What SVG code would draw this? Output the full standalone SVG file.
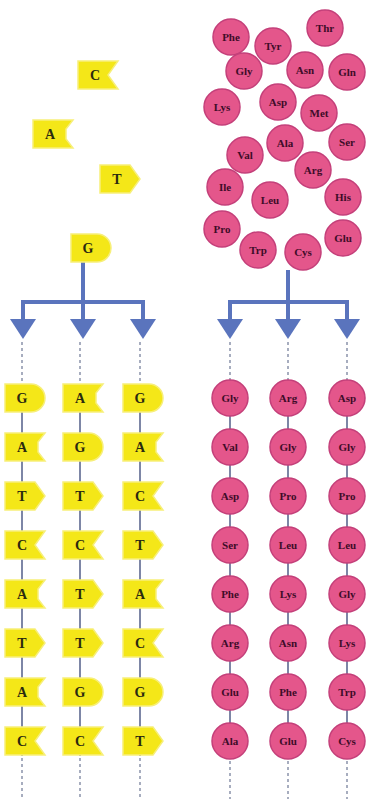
<svg xmlns="http://www.w3.org/2000/svg" width="378" height="799" viewBox="0 0 378 799">
<style>
.tag{fill:#f4e718;stroke:#f7ef7a;stroke-width:1.5}
.dt{font-family:"Liberation Serif",serif;font-weight:bold;font-size:14px;fill:#2a2a10;text-anchor:middle;dominant-baseline:central}
.aa{fill:#e4568b;stroke:#c4407a;stroke-width:1.5}
.at{font-family:"Liberation Serif",serif;font-weight:bold;font-size:11px;fill:#3e0c28;text-anchor:middle;dominant-baseline:central}
.arr{fill:none;stroke:#5a74bd;stroke-width:4}
.ah{fill:#5a74bd}
.sl{stroke:#7d86a6;stroke-width:2}
.dl{stroke:#8a92ab;stroke-width:1.5;stroke-dasharray:3 3}
</style>
<defs>
<path id="tA" d="M-17,-14 H23 L16,-5 V5 L23,14 H-17 Z"/>
<path id="tC" d="M-17,-14 H23 L13,0 L23,14 H-17 Z"/>
<path id="tT" d="M-17,-14 H13 L23,0 L13,14 H-17 Z"/>
<path id="tG" d="M-17,-14 H9 A14,14 0 0 1 9,14 H-17 Z"/>
</defs>
<rect width="378" height="799" fill="#ffffff"/>

<g id="connectors">
<path class="arr" d="M83,262 V302 M23,302 H143 M23,300 V322 M83,302 V322 M143,300 V322"/>
<polygon class="ah" points="10,319 36,319 23,339"/>
<polygon class="ah" points="70,319 96,319 83,339"/>
<polygon class="ah" points="130,319 156,319 143,339"/>
<path class="arr" d="M288,270 V302 M230,302 H347 M230,300 V322 M288,302 V322 M347,300 V322"/>
<polygon class="ah" points="217,319 243,319 230,339"/>
<polygon class="ah" points="275,319 301,319 288,339"/>
<polygon class="ah" points="334,319 360,319 347,339"/>
<path class="dl" d="M22,342 V384 M80,342 V384 M140,342 V384 M230,342 V380 M288,342 V380 M347,342 V380"/>
<path class="sl" d="M22,384 V756 M80,384 V756 M140,384 V756 M230,384 V756 M288,384 V756 M347,384 V756"/>
<path class="dl" d="M22,758 V799 M80,758 V799 M140,758 V799 M230,761 V799 M288,761 V799 M347,761 V799"/>
</g>

<g id="free-dna">
<g id="free-C"><use href="#tC" class="tag" x="95" y="75"/><text class="dt" x="95" y="75">C</text></g>
<g id="free-A"><use href="#tA" class="tag" x="50" y="134"/><text class="dt" x="50" y="134">A</text></g>
<g id="free-T"><use href="#tT" class="tag" x="117" y="179"/><text class="dt" x="117" y="179">T</text></g>
<g id="free-G"><use href="#tG" class="tag" x="88" y="248"/><text class="dt" x="88" y="248">G</text></g>
</g>

<g id="free-aa">
<g id="f-Phe"><circle class="aa" cx="231" cy="37" r="18"/><text class="at" x="231" y="37">Phe</text></g>
<g id="f-Tyr"><circle class="aa" cx="273" cy="46" r="18"/><text class="at" x="273" y="46">Tyr</text></g>
<g id="f-Thr"><circle class="aa" cx="325" cy="28" r="18"/><text class="at" x="325" y="28">Thr</text></g>
<g id="f-Gly"><circle class="aa" cx="244" cy="71" r="18"/><text class="at" x="244" y="71">Gly</text></g>
<g id="f-Asn"><circle class="aa" cx="305" cy="70" r="18"/><text class="at" x="305" y="70">Asn</text></g>
<g id="f-Gln"><circle class="aa" cx="347" cy="72" r="18"/><text class="at" x="347" y="72">Gln</text></g>
<g id="f-Lys"><circle class="aa" cx="222" cy="107" r="18"/><text class="at" x="222" y="107">Lys</text></g>
<g id="f-Asp"><circle class="aa" cx="278" cy="102" r="18"/><text class="at" x="278" y="102">Asp</text></g>
<g id="f-Met"><circle class="aa" cx="319" cy="113" r="18"/><text class="at" x="319" y="113">Met</text></g>
<g id="f-Ala"><circle class="aa" cx="285" cy="143" r="18"/><text class="at" x="285" y="143">Ala</text></g>
<g id="f-Ser"><circle class="aa" cx="347" cy="142" r="18"/><text class="at" x="347" y="142">Ser</text></g>
<g id="f-Val"><circle class="aa" cx="245" cy="155" r="18"/><text class="at" x="245" y="155">Val</text></g>
<g id="f-Arg"><circle class="aa" cx="313" cy="170" r="18"/><text class="at" x="313" y="170">Arg</text></g>
<g id="f-Ile"><circle class="aa" cx="225" cy="187" r="18"/><text class="at" x="225" y="187">Ile</text></g>
<g id="f-Leu"><circle class="aa" cx="270" cy="200" r="18"/><text class="at" x="270" y="200">Leu</text></g>
<g id="f-His"><circle class="aa" cx="343" cy="197" r="18"/><text class="at" x="343" y="197">His</text></g>
<g id="f-Pro"><circle class="aa" cx="222" cy="229" r="18"/><text class="at" x="222" y="229">Pro</text></g>
<g id="f-Trp"><circle class="aa" cx="258" cy="250" r="18"/><text class="at" x="258" y="250">Trp</text></g>
<g id="f-Cys"><circle class="aa" cx="303" cy="252" r="18"/><text class="at" x="303" y="252">Cys</text></g>
<g id="f-Glu"><circle class="aa" cx="343" cy="238" r="18"/><text class="at" x="343" y="238">Glu</text></g>
</g>

<g id="dna-col1">
<g id="d1-1"><use href="#tG" class="tag" x="22" y="398"/><text class="dt" x="22" y="398">G</text></g>
<g id="d1-2"><use href="#tA" class="tag" x="22" y="447"/><text class="dt" x="22" y="447">A</text></g>
<g id="d1-3"><use href="#tT" class="tag" x="22" y="496"/><text class="dt" x="22" y="496">T</text></g>
<g id="d1-4"><use href="#tC" class="tag" x="22" y="545"/><text class="dt" x="22" y="545">C</text></g>
<g id="d1-5"><use href="#tA" class="tag" x="22" y="594"/><text class="dt" x="22" y="594">A</text></g>
<g id="d1-6"><use href="#tT" class="tag" x="22" y="643"/><text class="dt" x="22" y="643">T</text></g>
<g id="d1-7"><use href="#tA" class="tag" x="22" y="692"/><text class="dt" x="22" y="692">A</text></g>
<g id="d1-8"><use href="#tC" class="tag" x="22" y="741"/><text class="dt" x="22" y="741">C</text></g>
</g>
<g id="dna-col2">
<g id="d2-1"><use href="#tA" class="tag" x="80" y="398"/><text class="dt" x="80" y="398">A</text></g>
<g id="d2-2"><use href="#tG" class="tag" x="80" y="447"/><text class="dt" x="80" y="447">G</text></g>
<g id="d2-3"><use href="#tT" class="tag" x="80" y="496"/><text class="dt" x="80" y="496">T</text></g>
<g id="d2-4"><use href="#tC" class="tag" x="80" y="545"/><text class="dt" x="80" y="545">C</text></g>
<g id="d2-5"><use href="#tT" class="tag" x="80" y="594"/><text class="dt" x="80" y="594">T</text></g>
<g id="d2-6"><use href="#tT" class="tag" x="80" y="643"/><text class="dt" x="80" y="643">T</text></g>
<g id="d2-7"><use href="#tG" class="tag" x="80" y="692"/><text class="dt" x="80" y="692">G</text></g>
<g id="d2-8"><use href="#tC" class="tag" x="80" y="741"/><text class="dt" x="80" y="741">C</text></g>
</g>
<g id="dna-col3">
<g id="d3-1"><use href="#tG" class="tag" x="140" y="398"/><text class="dt" x="140" y="398">G</text></g>
<g id="d3-2"><use href="#tA" class="tag" x="140" y="447"/><text class="dt" x="140" y="447">A</text></g>
<g id="d3-3"><use href="#tC" class="tag" x="140" y="496"/><text class="dt" x="140" y="496">C</text></g>
<g id="d3-4"><use href="#tT" class="tag" x="140" y="545"/><text class="dt" x="140" y="545">T</text></g>
<g id="d3-5"><use href="#tA" class="tag" x="140" y="594"/><text class="dt" x="140" y="594">A</text></g>
<g id="d3-6"><use href="#tC" class="tag" x="140" y="643"/><text class="dt" x="140" y="643">C</text></g>
<g id="d3-7"><use href="#tG" class="tag" x="140" y="692"/><text class="dt" x="140" y="692">G</text></g>
<g id="d3-8"><use href="#tT" class="tag" x="140" y="741"/><text class="dt" x="140" y="741">T</text></g>
</g>

<g id="aa-col1">
<g id="a1-1"><circle class="aa" cx="230" cy="398" r="18"/><text class="at" x="230" y="398">Gly</text></g>
<g id="a1-2"><circle class="aa" cx="230" cy="447" r="18"/><text class="at" x="230" y="447">Val</text></g>
<g id="a1-3"><circle class="aa" cx="230" cy="496" r="18"/><text class="at" x="230" y="496">Asp</text></g>
<g id="a1-4"><circle class="aa" cx="230" cy="545" r="18"/><text class="at" x="230" y="545">Ser</text></g>
<g id="a1-5"><circle class="aa" cx="230" cy="594" r="18"/><text class="at" x="230" y="594">Phe</text></g>
<g id="a1-6"><circle class="aa" cx="230" cy="643" r="18"/><text class="at" x="230" y="643">Arg</text></g>
<g id="a1-7"><circle class="aa" cx="230" cy="692" r="18"/><text class="at" x="230" y="692">Glu</text></g>
<g id="a1-8"><circle class="aa" cx="230" cy="741" r="18"/><text class="at" x="230" y="741">Ala</text></g>
</g>
<g id="aa-col2">
<g id="a2-1"><circle class="aa" cx="288" cy="398" r="18"/><text class="at" x="288" y="398">Arg</text></g>
<g id="a2-2"><circle class="aa" cx="288" cy="447" r="18"/><text class="at" x="288" y="447">Gly</text></g>
<g id="a2-3"><circle class="aa" cx="288" cy="496" r="18"/><text class="at" x="288" y="496">Pro</text></g>
<g id="a2-4"><circle class="aa" cx="288" cy="545" r="18"/><text class="at" x="288" y="545">Leu</text></g>
<g id="a2-5"><circle class="aa" cx="288" cy="594" r="18"/><text class="at" x="288" y="594">Lys</text></g>
<g id="a2-6"><circle class="aa" cx="288" cy="643" r="18"/><text class="at" x="288" y="643">Asn</text></g>
<g id="a2-7"><circle class="aa" cx="288" cy="692" r="18"/><text class="at" x="288" y="692">Phe</text></g>
<g id="a2-8"><circle class="aa" cx="288" cy="741" r="18"/><text class="at" x="288" y="741">Glu</text></g>
</g>
<g id="aa-col3">
<g id="a3-1"><circle class="aa" cx="347" cy="398" r="18"/><text class="at" x="347" y="398">Asp</text></g>
<g id="a3-2"><circle class="aa" cx="347" cy="447" r="18"/><text class="at" x="347" y="447">Gly</text></g>
<g id="a3-3"><circle class="aa" cx="347" cy="496" r="18"/><text class="at" x="347" y="496">Pro</text></g>
<g id="a3-4"><circle class="aa" cx="347" cy="545" r="18"/><text class="at" x="347" y="545">Leu</text></g>
<g id="a3-5"><circle class="aa" cx="347" cy="594" r="18"/><text class="at" x="347" y="594">Gly</text></g>
<g id="a3-6"><circle class="aa" cx="347" cy="643" r="18"/><text class="at" x="347" y="643">Lys</text></g>
<g id="a3-7"><circle class="aa" cx="347" cy="692" r="18"/><text class="at" x="347" y="692">Trp</text></g>
<g id="a3-8"><circle class="aa" cx="347" cy="741" r="18"/><text class="at" x="347" y="741">Cys</text></g>
</g>
</svg>
